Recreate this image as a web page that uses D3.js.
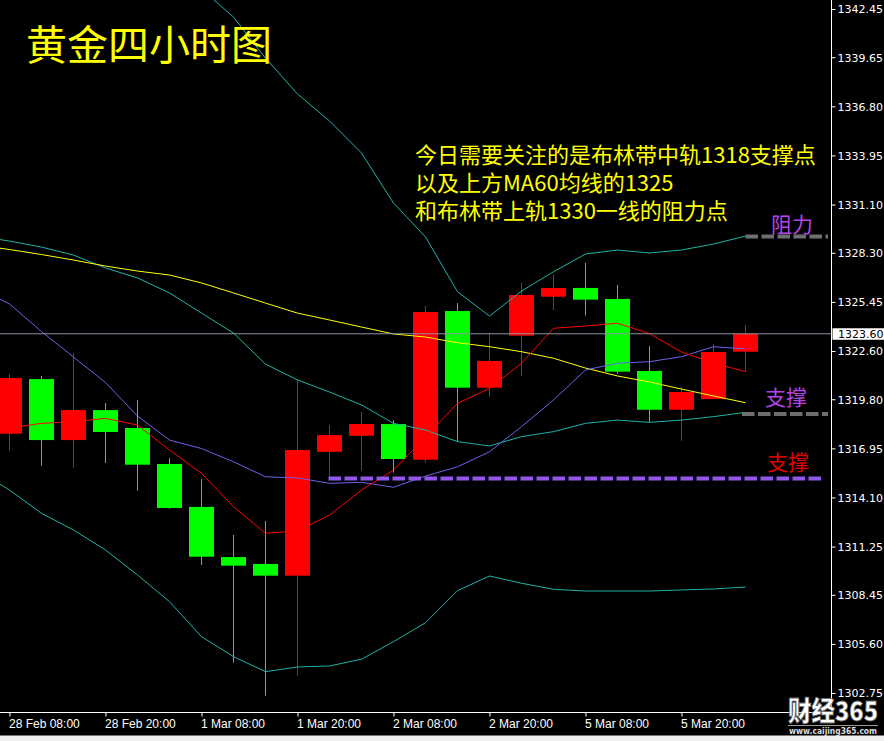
<!DOCTYPE html>
<html><head><meta charset="utf-8">
<script src="https://cdn.jsdelivr.net/npm/d3@7"></script>
<style>html,body{margin:0;padding:0;background:#f0f0f0;} svg{display:block}</style>
</head><body><svg id="c" width="884" height="741"></svg>
<script>
// ---- data (4-hour XAUUSD bars) ----
const timeLabels = ["28 Feb 08:00","28 Feb 20:00","1 Mar 08:00","1 Mar 20:00","2 Mar 08:00","2 Mar 20:00","5 Mar 08:00","5 Mar 20:00"];
const tickBarIndex = [0,3,6,9,12,15,18,21];
const open  = [1317.80,1320.97,1317.43,1319.17,1318.13,1316.04,1313.55,1310.64,1310.24,1309.56,1316.75,1317.68,1318.36,1316.29,1324.92,1320.47,1323.49,1325.75,1326.26,1325.62,1321.44,1319.19,1319.81,1322.56];
const high  = [1321.26,1321.15,1322.48,1319.58,1319.76,1316.39,1315.17,1311.92,1312.73,1320.96,1318.30,1319.06,1318.59,1325.21,1325.38,1323.63,1326.55,1327.03,1327.71,1326.43,1322.89,1320.51,1323.01,1324.11];
const low   = [1316.81,1315.94,1315.83,1316.10,1314.49,1313.45,1310.18,1304.51,1302.59,1303.75,1315.17,1315.65,1315.54,1316.12,1317.36,1319.95,1321.17,1324.98,1324.65,1321.28,1318.48,1317.39,1319.81,1321.40];
const close = [1321.03,1317.43,1319.17,1317.90,1316.00,1313.49,1310.66,1310.14,1309.56,1316.85,1317.72,1318.36,1316.33,1324.86,1320.47,1322.02,1325.85,1326.26,1325.58,1321.40,1319.19,1320.22,1322.54,1323.60];

// indicator series: first value belongs to the bar before "28 Feb 08:00"
const ma5   = [1318.10,1318.13,1318.40,1318.50,1318.69,1318.30,1316.85,1315.50,1313.56,1312.02,1312.15,1313.08,1314.53,1315.69,1317.61,1319.56,1320.43,1321.89,1323.92,1324.05,1324.21,1323.61,1322.54,1321.90,1321.40];
const ma10  = [1326.28,1325.33,1323.73,1322.25,1320.77,1318.83,1317.43,1316.94,1316.17,1315.30,1315.23,1314.92,1314.98,1314.69,1315.34,1315.88,1316.75,1318.21,1319.76,1321.50,1321.89,1321.98,1322.27,1322.85,1322.72];
const ma60  = [1328.75,1328.49,1328.20,1327.88,1327.53,1327.24,1327.01,1326.55,1325.97,1325.38,1324.80,1324.40,1323.99,1323.59,1323.41,1323.08,1322.85,1322.56,1322.18,1321.61,1321.15,1320.80,1320.39,1319.99,1319.60];
const bollUpper = [1343.67,1343.55,1344.02,1344.13,1343.84,1344.02,1343.90,1343.61,1341.98,1339.60,1337.52,1335.95,1334.09,1331.19,1329.22,1326.04,1324.63,1326.08,1327.20,1328.23,1328.46,1328.29,1328.46,1328.81,1329.27];
const bollMid   = [1329.27,1328.98,1328.63,1328.17,1327.42,1326.84,1325.97,1324.80,1323.64,1321.84,1320.92,1320.22,1319.47,1318.40,1318.01,1317.34,1317.09,1317.63,1317.92,1318.40,1318.59,1318.46,1318.59,1318.79,1319.04];
const bollLower = [1315.69,1314.53,1313.18,1312.21,1311.05,1309.60,1308.05,1306.02,1304.86,1303.99,1304.26,1304.32,1304.71,1305.73,1306.83,1308.69,1309.54,1309.12,1308.77,1308.67,1308.67,1308.67,1308.73,1308.79,1308.90];

const yTickLabels = ["1342.45","1339.65","1336.80","1333.95","1331.10","1328.30","1325.45","1322.60","1319.80","1316.95","1314.10","1311.25","1308.45","1305.60","1302.75"];
const currentPrice = 1323.60;
const resistanceLevel = 1329.25;
const supportLevel = 1318.95;
const supportLevel2 = 1315.20;
const title = "黄金四小时图";
const noteLines = ["今日需要关注的是布林带中轨1318支撑点","以及上方MA60均线的1325","和布林带上轨1330一线的阻力点"];

// ---- drawing ----
const svg = d3.select("#c");
const plotW = 831.5, plotH = 712;
const x = d3.scaleLinear().domain([0, 23]).range([9.5, 745.5]);
const y = d3.scaleLinear().domain([1302.75, 1342.45]).range([693, 9]);

svg.append("rect").attr("x",0).attr("y",0).attr("width",884).attr("height",735.5).attr("fill","#000");
svg.append("defs").append("clipPath").attr("id","plot").append("rect")
  .attr("x",0).attr("y",0).attr("width",plotW).attr("height",plotH);
const g = svg.append("g").attr("clip-path","url(#plot)");

// candles
const bars = d3.range(open.length).map(i => ({i, o:open[i], h:high[i], l:low[i], c:close[i]}));
const col = d => d.c >= d.o ? "#ff0000" : "#00ff00";
g.selectAll("line.wick").data(bars).join("line").attr("class","wick")
  .attr("x1", d => x(d.i)).attr("x2", d => x(d.i))
  .attr("y1", d => y(d.h)).attr("y2", d => y(d.l))
  .attr("stroke", col).attr("stroke-width", 1);
g.selectAll("rect.body").data(bars).join("rect").attr("class","body")
  .attr("x", d => x(d.i) - 12.5).attr("width", 25)
  .attr("y", d => y(Math.max(d.o, d.c)))
  .attr("height", d => Math.max(1, y(Math.min(d.o, d.c)) - y(Math.max(d.o, d.c))))
  .attr("fill", col);

// indicator lines
const line = d3.line().x((d, i) => x(i - 1)).y(d => y(d));
[[bollUpper,"#20b2aa"],[bollMid,"#20b2aa"],[bollLower,"#20b2aa"],[ma60,"#ffff00"],[ma10,"#7060e8"],[ma5,"#ff0000"]]
  .forEach(([s, c]) => g.append("path").attr("d", line(s)).attr("fill","none").attr("stroke", c).attr("stroke-width", 1));

// current price line
g.append("line").attr("x1",0).attr("x2",plotW).attr("y1",y(currentPrice)).attr("y2",y(currentPrice))
  .attr("stroke","#8a93a3").attr("stroke-width",1);

// dashed levels
function dashed(x1, x2, v, color){
  svg.append("line").attr("x1",x1).attr("x2",x2).attr("y1",y(v)).attr("y2",y(v))
    .attr("stroke",color).attr("stroke-width",4).attr("stroke-dasharray","12.5,3.5");
}
dashed(x(23), 828, resistanceLevel, "#6e6e6e");
dashed(x(23) - 3.5, 828, supportLevel, "#6e6e6e");
dashed(x(10) - 1, 822, supportLevel2, "#9058ec");

// axes
const yAxis = d3.axisRight(y).tickValues(yTickLabels.map(Number)).tickFormat((d,i)=>yTickLabels[i]).tickSize(4).tickPadding(2);
const ya = svg.append("g").attr("transform",`translate(${plotW},0)`).call(yAxis);
ya.select(".domain").remove();
ya.selectAll("line").attr("stroke","#fff");
ya.selectAll("text").attr("fill","#fff").attr("font-family","DejaVu Sans").attr("font-size",11).attr("dy","0.36em");
svg.append("line").attr("x1",plotW).attr("x2",plotW).attr("y1",0).attr("y2",plotH).attr("stroke","#fff");

const xAxis = d3.axisBottom(x).tickValues(tickBarIndex).tickFormat((d,i)=>timeLabels[i]).tickSize(4).tickPadding(3);
const xa = svg.append("g").attr("transform",`translate(0,${plotH + 0.5})`).call(xAxis);
xa.select(".domain").remove();
xa.selectAll("line").attr("stroke","#fff");
xa.selectAll("text").attr("fill","#fff").attr("font-family","Liberation Sans").attr("font-size",12)
  .attr("text-anchor","start").attr("x",-1);
svg.append("line").attr("x1",0).attr("x2",plotW).attr("y1",plotH + 0.5).attr("y2",plotH + 0.5).attr("stroke","#fff");

// current price tag
svg.append("rect").attr("x",832.5).attr("y",y(currentPrice)-5.5).attr("width",52).attr("height",11.5).attr("fill","#fff");
svg.append("text").attr("x",838).attr("y",y(currentPrice)+4).attr("font-family","DejaVu Sans").attr("font-size",11)
  .attr("fill","#000").text(currentPrice.toFixed(2));

// texts
svg.append("text").attr("x",26).attr("y",60).attr("font-family","Noto Sans CJK SC").attr("font-size",41)
  .attr("fill","#ffff00").text(title);
noteLines.forEach((t,i) => svg.append("text").attr("x",415).attr("y",163 + i*28)
  .attr("font-family","Noto Sans CJK SC").attr("font-size",22).attr("fill","#ffff00").text(t));
svg.append("text").attr("x",771).attr("y",231.5).attr("font-family","Noto Sans CJK SC").attr("font-size",21).attr("fill","#b344e8").text("阻力");
svg.append("text").attr("x",765).attr("y",405).attr("font-family","Noto Sans CJK SC").attr("font-size",21).attr("fill","#b344e8").text("支撑");
svg.append("text").attr("x",767).attr("y",470).attr("font-family","Noto Sans CJK SC").attr("font-size",21).attr("fill","#e00000").text("支撑");

// logo
svg.append("text").attr("x",788).attr("y",721).attr("font-family","Noto Sans CJK SC").attr("font-weight",900)
  .attr("font-size",27).attr("textLength",90).attr("lengthAdjust","spacingAndGlyphs")
  .attr("fill","#fff").attr("stroke","#666").attr("stroke-width",0.8).text("财经365");
svg.append("line").attr("x1",788).attr("x2",878).attr("y1",725.5).attr("y2",725.5).attr("stroke","#999");
svg.append("text").attr("x",789).attr("y",734).attr("font-family","DejaVu Sans").attr("font-weight","bold")
  .attr("font-size",8).attr("textLength",88).attr("lengthAdjust","spacingAndGlyphs").attr("fill","#ddd").text("www.caijing365.com");
</script></body></html>
